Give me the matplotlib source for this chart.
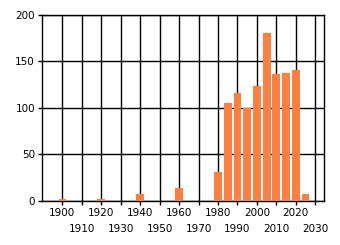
import numpy as np
import matplotlib.pyplot as plt

# ==========================================
# DATA
# ==========================================
years = [1900, 1920, 1940, 1960, 1980, 1985, 1990, 1995, 2000, 2005, 2010, 2015, 2020, 2025]
counts = [2, 2, 7, 14, 31, 105, 116, 100, 124, 181, 137, 138, 141, 8]
decades = list(range(1900, 2031, 10))
yticks = [0, 50, 100, 150, 200]

# ==========================================
# PLOT
# ==========================================
fig = plt.figure(figsize=(3.4, 2.45), dpi=100)
ax = fig.add_axes([0.1235, 0.1796, 0.8295, 0.7594])

ax.bar(years, counts, width=4.0, color='#FF7F40', zorder=3)

ax.set_xlim(1889.5, 2034.5)
ax.set_ylim(0, 200)

ax.set_xticks(decades)
ax.set_xticklabels([str(d) for d in decades], fontsize=7.5)
ax.set_yticks(yticks)
ax.set_yticklabels([str(v) for v in yticks], fontsize=7.5)

ax.grid(True, color='black', linewidth=1.0, zorder=1)
ax.tick_params(axis='both', length=3, width=1.0, color='black', pad=2)

# staggered decade labels, like the original
for i, tick in enumerate(ax.xaxis.get_major_ticks()):
    if i % 2 == 1:
        tick.set_pad(13.5)

for sp in ax.spines.values():
    sp.set_color('black')
    sp.set_linewidth(1.0)

fig.savefig('out.png', dpi=100)
